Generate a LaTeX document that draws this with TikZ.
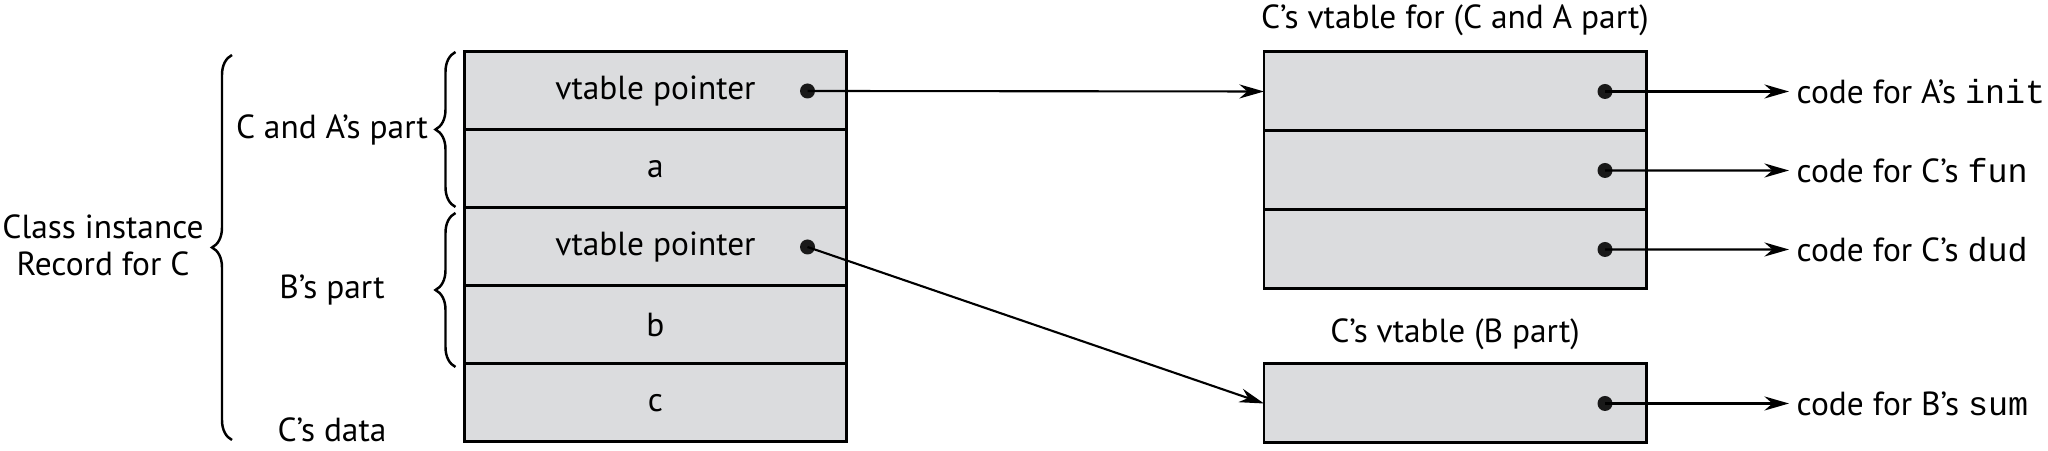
\documentclass[tikz,border=0pt]{standalone}
\usepackage{fontspec}
\setmainfont{PT Sans}
\setmonofont{Liberation Mono}
\usetikzlibrary{calc,positioning,arrows.meta,decorations.pathreplacing}
\definecolor{cellgray}{RGB}{219,220,222}

\begin{document}
\begin{tikzpicture}[>={Stealth[length=7pt,width=4pt]},
	cell/.style={draw,line width=0.85pt,fill=cellgray,outer sep=0pt,inner sep=0pt,
		minimum width=3.82cm,minimum height=0.78cm,font=\fontsize{9.5}{10.5}\selectfont},
	slot/.style={cell,minimum height=0.79cm},
	ptr/.style={circle,fill=black!90,inner sep=0pt,minimum size=0.15cm},
	lbl/.style={font=\fontsize{9.5}{10.5}\selectfont,align=center},
	brc/.style={decorate,decoration={brace,amplitude=0.2cm},line width=0.7pt},
	link/.style={->,line width=0.6pt}]
	\useasboundingbox (0,0) rectangle (20.48,4.51);
	%the class instance record
	\node[cell] (r1) at (6.555,3.60) {vtable pointer};
	\node[cell,below=0pt of r1] (r2) {a};
	\node[cell,below=0pt of r2] (r3) {vtable pointer};
	\node[cell,below=0pt of r3] (r4) {b};
	\node[cell,below=0pt of r4] (r5) {c};
	\node[ptr] (p1) at ([xshift=-0.39cm]r1.east) {};
	\node[ptr] (p2) at ([xshift=-0.39cm]r3.east) {};
	%braces and their labels
	\draw[brc] (2.32,0.11) -- (2.32,3.96);
	\draw[brc] ([xshift=-0.09cm,yshift=0.01cm]r2.south west) -- ([xshift=-0.09cm]r1.north west);
	\draw[brc] ([xshift=-0.09cm,yshift=-0.03cm]r4.south west) -- ([xshift=-0.09cm,yshift=-0.05cm]r3.north west);
	\node[lbl] (cinst) at (1.03,2.06) {Class instance\\Record for C};
	\node[lbl] (capart) at (3.32,3.21) {C and A’s part};
	\node[lbl] (bpart) at (3.32,1.61) {B’s part};
	\node[lbl] (cdata) at (3.32,0.21) {C’s data};
	%the two vtables
	\node[slot] (v1) at (14.55,3.595) {};
	\node[slot,below=0pt of v1] (v2) {};
	\node[slot,below=0pt of v2] (v3) {};
	\node[slot] (w1) at (14.55,0.475) {};
	\node[lbl] (t1) at ([yshift=0.32cm]v1.north) {C’s vtable for (C and A part)};
	\node[lbl] (t2) at ([yshift=0.30cm]w1.north) {C’s vtable (B part)};
	\foreach \s in {v1,v2,v3,w1}
		\node[ptr] (q\s) at ([xshift=-0.41cm]\s.east) {};
	%the code the slots point to
	\node[lbl,anchor=west,inner sep=2pt] (finit) at (17.89,3.595) {code for A’s \texttt{init}};
	\node[lbl,anchor=west,inner sep=2pt] (ffun) at (17.89,2.805) {code for C’s \texttt{fun}};
	\node[lbl,anchor=west,inner sep=2pt] (fdud) at (17.89,2.015) {code for C’s \texttt{dud}};
	\node[lbl,anchor=west,inner sep=2pt] (fsum) at (17.89,0.475) {code for B’s \texttt{sum}};
	%pointers
	\draw[link] (p1.center) -- (v1.west);
	\draw[link] (p2.center) -- (w1.west);
	\draw[link] (qv1.center) -- (finit.west);
	\draw[link] (qv2.center) -- (ffun.west);
	\draw[link] (qv3.center) -- (fdud.west);
	\draw[link] (qw1.center) -- (fsum.west);
\end{tikzpicture}
\end{document}
